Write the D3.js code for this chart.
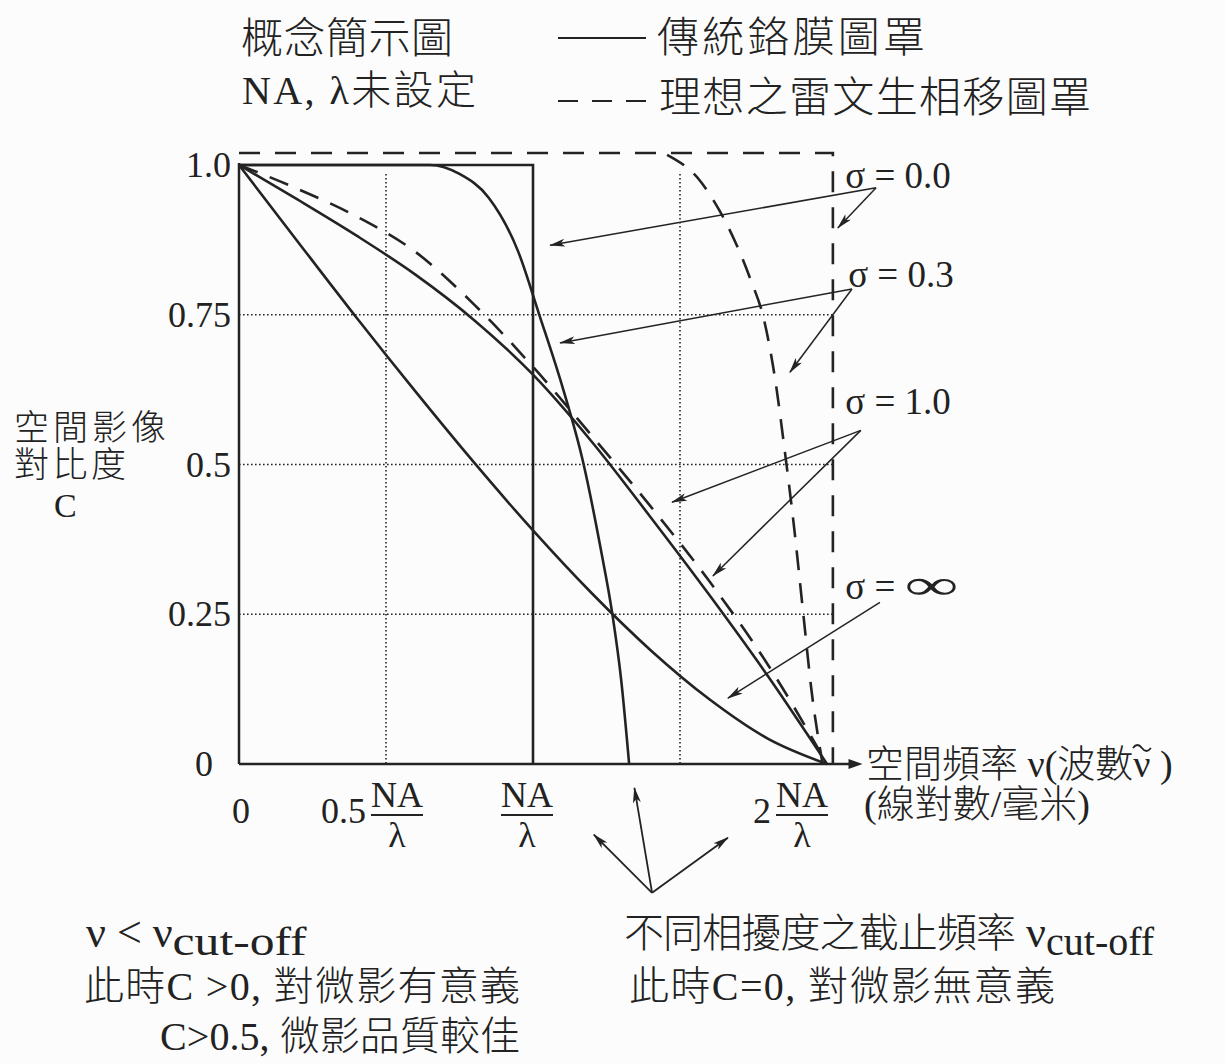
<!DOCTYPE html>
<html>
<head>
<meta charset="utf-8">
<script src="https://cdn.jsdelivr.net/npm/d3@7/dist/d3.min.js"></script>
<style>
  body { margin: 0; background: #fcfcfc; }
  svg { display: block; }
  text { font-family: "Liberation Serif", "Noto Sans CJK TC", serif; fill: #222; font-weight: 300; }
</style>
</head>
<body>
<svg id="chart" width="1225" height="1064"></svg>
<script>
// ---- data (spatial frequency in NA/λ, contrast C) ----
const yTickValues = [1.0, 0.75, 0.5, 0.25, 0];
const yTickLabels = ["1.0", "0.75", "0.5", "0.25", "0"];
const yGridValues = [0.75, 0.5, 0.25];
const xGridValues = [0.5, 1.5];
const xTickValues = [0, 0.5, 1, 2];
const xTickCoefs  = ["0", "0.5", "", "2"];
const xTickFrac   = [false, true, true, true];

// conventional chrome mask (solid)
const chromeSigma0   = [[0, 1], [1, 1], [1, 0]];
const chromeSigma03  = [[0, 1], [0.65, 1], [0.75, 0.985], [0.85, 0.945], [0.95, 0.855], [1.02, 0.752],
                        [1.1, 0.63], [1.17, 0.505], [1.23, 0.36], [1.27, 0.25], [1.30, 0.14], [1.327, 0]];
const chromeSigma1   = [[0, 1], [0.2, 0.942], [0.4, 0.882], [0.6, 0.817], [0.8, 0.741], [1.0, 0.65],
                        [1.2, 0.538], [1.4, 0.412], [1.6, 0.282], [1.8, 0.146], [2, 0]];
const chromeSigmaInf = [[0, 1], [0.2, 0.872], [0.4, 0.745], [0.6, 0.622], [0.8, 0.503], [1.0, 0.39],
                        [1.2, 0.285], [1.4, 0.19], [1.6, 0.108], [1.8, 0.042], [2, 0]];

// ideal Levenson phase-shift mask (dashed)
const psmSigma0  = [[0, 1.02], [2.02, 1.02], [2.02, 0]];
const psmSigma03 = [[1.456, 1.017], [1.566, 0.975], [1.633, 0.925], [1.693, 0.866], [1.739, 0.81],
                    [1.786, 0.741], [1.824, 0.641], [1.856, 0.524], [1.889, 0.391], [1.918, 0.257],
                    [1.947, 0.124], [1.985, 0]];
const psmSigma1  = [[0, 1], [0.2, 0.96], [0.4, 0.914], [0.6, 0.855], [0.8, 0.767], [1.0, 0.663],
                    [1.2, 0.548], [1.4, 0.43], [1.6, 0.305], [1.8, 0.165], [2, 0]];

// sigma labels and their arrows
const sigmaNames = ["0.0", "0.3", "1.0", "∞"];
const sigmaLabelAt = [[2.062, 0.962], [2.072, 0.797], [2.062, 0.585], [2.062, 0.275]];
const sigmaArrowFrom = [[2.167, 0.962], [2.085, 0.793], [2.115, 0.557], [2.180, 0.270]];
const sigmaArrowTo = [
  [[1.058, 0.866], [2.037, 0.895]],
  [[1.092, 0.703], [1.874, 0.654]],
  [[1.473, 0.437], [1.612, 0.314]],
  [[1.663, 0.110]]
];

const svg = d3.select('#chart');

const x = d3.scaleLinear().domain([0, 2]).range([239, 827]);
const y = d3.scaleLinear().domain([0, 1]).range([764, 165]);

const ink = '#232323';

// arrow marker
svg.append('defs')
   .append('marker')
   .attr('id', 'arrow')
   .attr('viewBox', '0 0 16 8')
   .attr('refX', 15)
   .attr('refY', 4)
   .attr('markerWidth', 16)
   .attr('markerHeight', 8)
   .attr('markerUnits', 'userSpaceOnUse')
   .attr('orient', 'auto')
   .append('path')
   .attr('d', 'M0,0 L16,4 L0,8 L4,4 Z')
   .attr('fill', ink);

// grid
svg.selectAll('.hgrid')
   .data(yGridValues)
   .enter()
   .append('line')
   .attr('class', 'hgrid')
   .attr('x1', x(0)).attr('x2', x(2.02))
   .attr('y1', d => y(d)).attr('y2', d => y(d))
   .attr('stroke', ink).attr('stroke-width', 1.6)
   .attr('stroke-dasharray', '1.6,2.4');

svg.selectAll('.vgrid')
   .data(xGridValues)
   .enter()
   .append('line')
   .attr('class', 'vgrid')
   .attr('x1', d => x(d)).attr('x2', d => x(d))
   .attr('y1', y(0.985)).attr('y2', y(0))
   .attr('stroke', ink).attr('stroke-width', 1.6)
   .attr('stroke-dasharray', '1.6,2.4');

// axes
svg.append('line')
   .attr('x1', x(0)).attr('x2', x(0))
   .attr('y1', y(1) - 2).attr('y2', y(0))
   .attr('stroke', ink).attr('stroke-width', 2.5);

svg.append('line')
   .attr('x1', x(0)).attr('x2', x(2.08))
   .attr('y1', y(0)).attr('y2', y(0))
   .attr('stroke', ink).attr('stroke-width', 2.5);

svg.append('path')
   .attr('d', `M${x(2.08) - 2},${y(0) - 5} L${x(2.08) + 12},${y(0)} L${x(2.08) - 2},${y(0) + 5} Z`)
   .attr('fill', ink);

// curves
const smooth = d3.line().x(d => x(d[0])).y(d => y(d[1])).curve(d3.curveMonotoneX);
const straight = d3.line().x(d => x(d[0])).y(d => y(d[1]));

const curves = [
  {data: chromeSigma0, gen: straight, dash: null},
  {data: chromeSigma03, gen: smooth, dash: null},
  {data: chromeSigma1, gen: smooth, dash: null},
  {data: chromeSigmaInf, gen: smooth, dash: null},
  {data: psmSigma0, gen: straight, dash: '21,15'},
  {data: psmSigma03, gen: smooth, dash: '20,13'},
  {data: psmSigma1, gen: smooth, dash: '20,13'}
];

svg.selectAll('.curve')
   .data(curves)
   .enter()
   .append('path')
   .attr('class', 'curve')
   .attr('d', d => d.gen(d.data))
   .attr('fill', 'none')
   .attr('stroke', ink)
   .attr('stroke-width', 2.6)
   .attr('stroke-dasharray', d => d.dash);

// sigma labels + arrows
const sig = svg.selectAll('.sigma')
   .data(sigmaNames)
   .enter()
   .append('text')
   .attr('class', 'sigma')
   .attr('x', (d, i) => x(sigmaLabelAt[i][0]))
   .attr('y', (d, i) => y(sigmaLabelAt[i][1]))
   .attr('font-size', 37);
sig.append('tspan').text('σ = ');
sig.append('tspan')
   .attr('font-size', d => d === '∞' ? 42 : 37)
   .attr('textLength', d => d === '∞' ? 54 : null)
   .attr('lengthAdjust', 'spacingAndGlyphs')
   .text(d => d);

sigmaArrowTo.forEach((tips, i) => {
  tips.forEach(t => {
    svg.append('line')
       .attr('x1', x(sigmaArrowFrom[i][0])).attr('y1', y(sigmaArrowFrom[i][1]))
       .attr('x2', x(t[0])).attr('y2', y(t[1]))
       .attr('stroke', ink).attr('stroke-width', 1.5)
       .attr('marker-end', 'url(#arrow)');
  });
});

// y tick labels
svg.selectAll('.ytick')
   .data(yTickValues)
   .enter()
   .append('text')
   .attr('class', 'ytick')
   .attr('x', d => d === 0 ? 213 : 231)
   .attr('y', d => y(d) + 12)
   .attr('text-anchor', 'end')
   .attr('font-size', 36)
   .text((d, i) => yTickLabels[i]);

// x tick labels (NA/λ fractions)
const fracShift = [0, 11, -6, -25];
const xt = svg.selectAll('.xtick')
   .data(xTickValues)
   .enter()
   .append('g')
   .attr('class', 'xtick')
   .attr('transform', (d, i) => `translate(${x(d) + fracShift[i]},0)`);

xt.filter((d, i) => xTickFrac[i]).append('text')
  .attr('y', 807).attr('text-anchor', 'middle').attr('font-size', 36).text('NA');
xt.filter((d, i) => xTickFrac[i]).append('line')
  .attr('x1', -26).attr('x2', 26).attr('y1', 815).attr('y2', 815)
  .attr('stroke', ink).attr('stroke-width', 2);
xt.filter((d, i) => xTickFrac[i]).append('text')
  .attr('y', 847).attr('text-anchor', 'middle').attr('font-size', 36).text('λ');
xt.append('text')
  .attr('x', (d, i) => xTickFrac[i] ? -31 : 2)
  .attr('y', 823)
  .attr('text-anchor', (d, i) => xTickFrac[i] ? 'end' : 'middle')
  .attr('font-size', 36)
  .text((d, i) => xTickCoefs[i]);

// axis titles
svg.append('text').attr('font-size', 35).attr('x', 14).attr('y', 440)
   .attr('textLength', 152).text('空間影像');
svg.append('text').attr('font-size', 35).attr('x', 14).attr('y', 477)
   .attr('textLength', 112).text('對比度');
svg.append('text').attr('font-size', 34).attr('x', 54).attr('y', 517).text('C');

const xTitle = svg.append('text').attr('font-size', 38).attr('x', 866).attr('y', 777)
   .text('空間頻率 ν(波數ν )');
const nuBox = xTitle.node().getExtentOfChar(9);
const tx = nuBox.x + nuBox.width / 2;
svg.append('path')
   .attr('d', `M${tx - 9},${748} q4.5,-6 9,0 t9,0`)
   .attr('fill', 'none').attr('stroke', ink).attr('stroke-width', 1.8);
svg.append('text').attr('font-size', 38).attr('x', 864).attr('y', 817).text('(線對數/毫米)');

// header + legend
svg.append('text').attr('font-size', 42).attr('x', 241).attr('y', 53)
   .attr('textLength', 212).text('概念簡示圖');
svg.append('text').attr('font-size', 40).attr('x', 242).attr('y', 104)
   .attr('textLength', 234).text('NA, λ未設定');

svg.append('line').attr('x1', 558).attr('x2', 646).attr('y1', 38).attr('y2', 38)
   .attr('stroke', ink).attr('stroke-width', 2.2);
svg.append('line').attr('x1', 558).attr('x2', 646).attr('y1', 101).attr('y2', 101)
   .attr('stroke', ink).attr('stroke-width', 2.2).attr('stroke-dasharray', '20,14');
svg.append('text').attr('font-size', 42).attr('x', 657).attr('y', 52)
   .attr('textLength', 268).text('傳統鉻膜圖罩');
svg.append('text').attr('font-size', 42).attr('x', 659).attr('y', 112)
   .attr('textLength', 432).text('理想之雷文生相移圖罩');

// cut-off annotation arrows (from one point to three cut-off frequencies)
const cutFrom = [1.405, -0.215];
const cutTips = [[1.207, -0.118], [1.345, -0.04], [1.663, -0.123]];
cutTips.forEach(t => {
  svg.append('line')
     .attr('x1', x(cutFrom[0])).attr('y1', y(cutFrom[1]))
     .attr('x2', x(t[0])).attr('y2', y(t[1]))
     .attr('stroke', ink).attr('stroke-width', 1.8)
     .attr('marker-end', 'url(#arrow)');
});

// bottom notes
const n1 = svg.append('text').attr('font-size', 44).attr('x', 86).attr('y', 947);
n1.append('tspan').text('ν < ν');
n1.append('tspan').attr('dy', 8).attr('font-size', 40)
  .attr('textLength', 134).attr('lengthAdjust', 'spacingAndGlyphs').text('cut-off');

svg.append('text').attr('font-size', 40).attr('x', 84).attr('y', 1000)
   .attr('textLength', 436).text('此時C >0, 對微影有意義');
svg.append('text').attr('font-size', 40).attr('x', 160).attr('y', 1050)
   .attr('textLength', 360).text('C>0.5, 微影品質較佳');

const n2 = svg.append('text').attr('font-size', 40).attr('x', 624).attr('y', 947);
n2.append('tspan').attr('textLength', 392).text('不同相擾度之截止頻率');
n2.append('tspan').attr('font-size', 44).text(' ν');
n2.append('tspan').attr('dy', 8).attr('font-size', 40).text('cut-off');

svg.append('text').attr('font-size', 40).attr('x', 629).attr('y', 1000)
   .attr('textLength', 426).text('此時C=0, 對微影無意義');
</script>
</body>
</html>
